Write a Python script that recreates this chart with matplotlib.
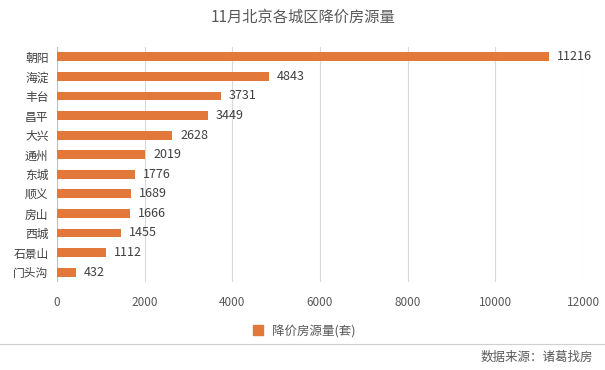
import numpy as np
import matplotlib.pyplot as plt
from matplotlib.lines import Line2D

plt.rcParams['font.family'] = ['Noto Sans CJK SC', 'DejaVu Sans']

districts = ['朝阳', '海淀', '丰台', '昌平', '大兴', '通州', '东城', '顺义', '房山', '西城', '石景山', '门头沟']
counts = [11216, 4843, 3731, 3449, 2628, 2019, 1776, 1689, 1666, 1455, 1112, 432]
xticks = [0, 2000, 4000, 6000, 8000, 10000, 12000]

BAR = '#E2793A'
GRAY = '#595959'

fig = plt.figure(figsize=(6.05, 3.7), dpi=100)
ax = fig.add_axes([0.094, 0.238, 0.870, 0.635])

y = np.arange(len(districts))
ax.barh(y, counts, height=0.45, color=BAR, zorder=3)
for yi, v in zip(y, counts):
    ax.text(v + 180, yi, str(v), va='center', ha='left', fontsize=9, color='#404040')

ax.set_yticks(y)
ax.set_yticklabels(districts, fontsize=8.5, color='#404040')
ax.set_ylim(len(districts) - 0.5, -0.5)
ax.set_xlim(0, 12000)
ax.set_xticks(xticks)
ax.set_xticklabels([str(t) for t in xticks], fontsize=8.5, color=GRAY)
ax.tick_params(axis='x', length=0, pad=10)
ax.tick_params(axis='y', length=0, pad=6)
ax.grid(axis='x', color='#d9d9d9', linewidth=0.8, zorder=0)
for s in ax.spines.values():
    s.set_visible(False)
ax.axvline(0, color='#bfbfbf', linewidth=0.8, zorder=2)

fig.text(0.5, 0.952, '11月北京各城区降价房源量', ha='center', va='center', fontsize=11, color=GRAY)

handle = Line2D([], [], marker='s', linestyle='none', color=BAR, markersize=6.5)
fig.legend([handle], ['降价房源量(套)'], loc='center', bbox_to_anchor=(0.497, 0.105),
           frameon=False, fontsize=9, labelcolor=GRAY, handletextpad=0.1)

fig.add_artist(Line2D([0, 1], [0.07, 0.07], transform=fig.transFigure, color='#d0d0d0', linewidth=0.8))
fig.text(0.98, 0.035, '数据来源：诸葛找房', ha='right', va='center', fontsize=9, color=GRAY)

fig.savefig('out.png', dpi=100)
